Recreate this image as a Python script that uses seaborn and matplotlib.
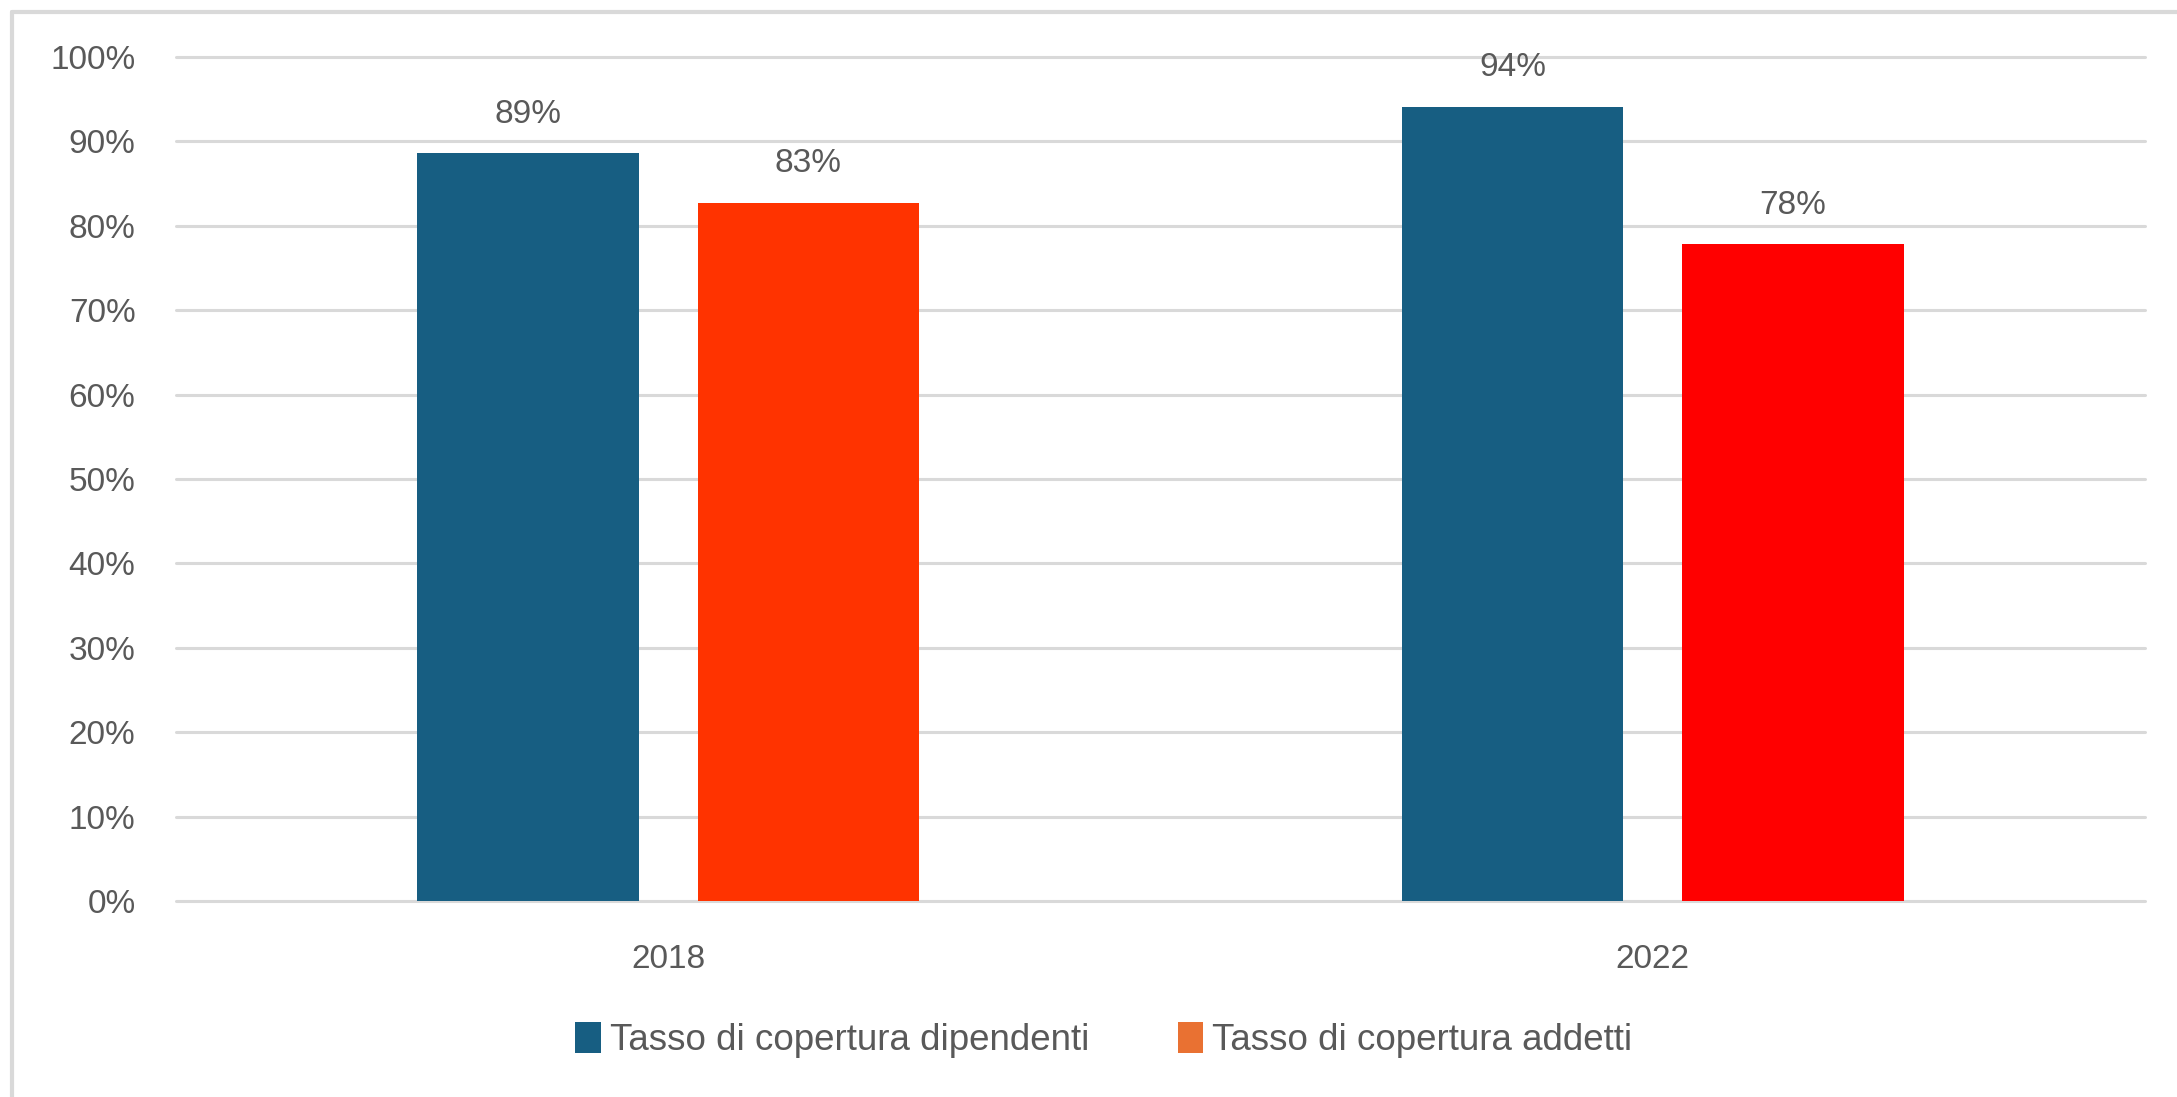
import pandas as pd
import numpy as np
import seaborn as sns
import matplotlib.pyplot as plt
from matplotlib.patches import Patch
from matplotlib.lines import Line2D

anni = ['2018', '2022']
serie = ['Tasso di copertura dipendenti', 'Tasso di copertura addetti']
dipendenti = [0.886, 0.941]
addetti = [0.827, 0.778]
etichette_dip = ['89%', '94%']
etichette_add = ['83%', '78%']

blu = '#175E82'
rossi = ['#FF3300', '#FF0000']
arancio_legenda = '#E97132'
grigio = '#595959'
griglia = '#D9D9D9'

df = pd.DataFrame({
    'anno': anni * 2,
    'serie': [serie[0]] * 2 + [serie[1]] * 2,
    'valore': dipendenti + addetti,
})

sns.set_style('white')
plt.rcParams['font.family'] = ['Liberation Sans', 'DejaVu Sans']

fig = plt.figure(figsize=(21.77, 10.97), dpi=100)
ax = fig.add_axes([0.0808, 0.1787, 0.9045, 0.7693])

sns.barplot(data=df, x='anno', y='valore', hue='serie', hue_order=serie,
            palette=[blu, rossi[0]], width=0.57, gap=0.21, ax=ax,
            legend=False, saturation=1, edgecolor='none')

# colori per singola barra (il rosso cambia tra gli anni)
cont = ax.containers
for i, p in enumerate(cont[1]):
    p.set_facecolor(rossi[i])

ax.bar_label(cont[0], labels=etichette_dip, padding=17, fontsize=24, color=grigio)
ax.bar_label(cont[1], labels=etichette_add, padding=17, fontsize=24, color=grigio)

ax.set_ylim(0, 1)
ax.set_xlim(-0.5, 1.5)
ax.set_yticks(np.arange(0, 1.01, 0.1))
ax.set_yticklabels([f'{int(round(v*100))}%' for v in np.arange(0, 1.01, 0.1)])
ax.yaxis.grid(True, color=griglia, lw=2.2)
for gl in ax.get_ygridlines():
    gl.set_clip_on(False)
ax.set_axisbelow(True)
for s in ax.spines.values():
    s.set_visible(False)
ax.tick_params(axis='y', length=0, pad=29, labelsize=24, labelcolor=grigio)
ax.tick_params(axis='x', length=0, pad=31, labelsize=24, labelcolor=grigio)
ax.set_xlabel('')
ax.set_ylabel('')

maniglie = [Patch(facecolor=blu, edgecolor='none'),
            Patch(facecolor=arancio_legenda, edgecolor='none')]
fig.legend(maniglie, serie, loc='center', bbox_to_anchor=(0.507, 1 - 1040 / 1097),
           ncol=2, frameon=False, handlelength=0.7, handleheight=0.9,
           handletextpad=0.25, columnspacing=2.4,
           prop={'family': ['Liberation Sans Narrow', 'Liberation Sans'], 'size': 26.5},
           labelcolor=grigio)

# cornice del grafico
fig.add_artist(Line2D([12 / 2177, 12 / 2177], [0, 1 - 12 / 1097], color=griglia, lw=3))
fig.add_artist(Line2D([12 / 2177, 1], [1 - 12 / 1097, 1 - 12 / 1097], color=griglia, lw=3))

fig.savefig('out.png', dpi=100)
